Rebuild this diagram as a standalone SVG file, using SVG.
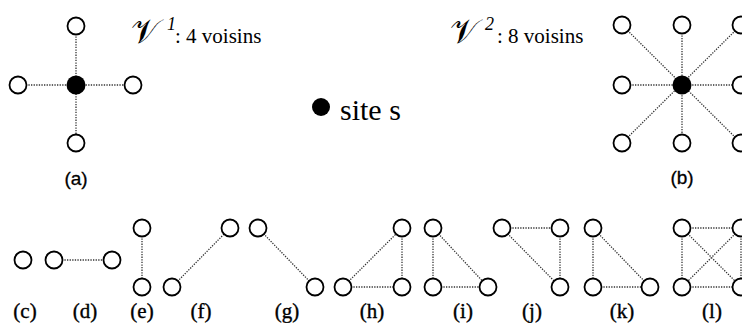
<svg xmlns="http://www.w3.org/2000/svg" width="742" height="323" viewBox="0 0 742 323">
<style>
.e{stroke:#333;stroke-width:1.3;stroke-dasharray:1.3 1.3;fill:none}
.o{fill:#fff;stroke:#000;stroke-width:1.8}
.f{fill:#000}
.sl{font-family:"Liberation Sans",Arial,sans-serif;font-size:19px;text-anchor:middle;stroke:#000;stroke-width:0.3}
.lb{font-family:"Liberation Serif","Times New Roman",serif;font-size:21px;text-anchor:middle;stroke:#000;stroke-width:0.35}
.t{font-family:"Liberation Serif","Times New Roman",serif}
.v{font-family:"DejaVu Serif","Liberation Serif",serif;font-size:34px}
</style>
<rect width="742" height="323" fill="#fff"/>
<g id="connectors">
<line class="e" x1="76" y1="26" x2="76" y2="143"/>
<line class="e" x1="18" y1="85" x2="133" y2="85"/>
<line class="e" x1="622" y1="85" x2="741" y2="85"/>
<line class="e" x1="682" y1="25" x2="682" y2="143"/>
<line class="e" x1="622" y1="25" x2="741" y2="143"/>
<line class="e" x1="741" y1="25" x2="622" y2="143"/>
<line class="e" x1="54" y1="260" x2="112" y2="260"/>
<line class="e" x1="142" y1="228" x2="142" y2="287"/>
<line class="e" x1="172" y1="287" x2="230" y2="228"/>
<line class="e" x1="258" y1="228" x2="315" y2="287"/>
<line class="e" x1="343" y1="287" x2="402" y2="228"/>
<line class="e" x1="343" y1="287" x2="402" y2="287"/>
<line class="e" x1="402" y1="228" x2="402" y2="287"/>
<line class="e" x1="433" y1="228" x2="433" y2="287"/>
<line class="e" x1="433" y1="287" x2="488" y2="287"/>
<line class="e" x1="433" y1="228" x2="488" y2="287"/>
<line class="e" x1="502" y1="228" x2="560" y2="228"/>
<line class="e" x1="560" y1="228" x2="560" y2="287"/>
<line class="e" x1="502" y1="228" x2="560" y2="287"/>
<line class="e" x1="593" y1="228" x2="593" y2="287"/>
<line class="e" x1="593" y1="287" x2="650" y2="287"/>
<line class="e" x1="593" y1="228" x2="650" y2="287"/>
<line class="e" x1="682" y1="228" x2="741" y2="228"/>
<line class="e" x1="682" y1="287" x2="741" y2="287"/>
<line class="e" x1="682" y1="228" x2="682" y2="287"/>
<line class="e" x1="741" y1="228" x2="741" y2="287"/>
<line class="e" x1="682" y1="228" x2="741" y2="287"/>
<line class="e" x1="741" y1="228" x2="682" y2="287"/>
</g>
<g id="fig-a">
<circle class="o" cx="76" cy="26" r="8.5"/>
<circle class="o" cx="18" cy="85" r="8.5"/>
<circle class="o" cx="133" cy="85" r="8.5"/>
<circle class="o" cx="76" cy="143" r="8.5"/>
<circle class="f" cx="76" cy="85" r="9.5"/>
<text class="sl" x="76" y="185">(a)</text>
</g>
<g id="legend-v1">
<text class="v" x="131" y="43">𝒱</text>
<text class="t" x="167" y="30" font-size="18" font-style="italic">1</text>
<text class="t" x="175" y="43" font-size="21">: 4 voisins</text>
</g>
<g id="legend-site">
<circle class="f" cx="321" cy="107" r="9"/>
<text class="t" x="340" y="120" font-size="30">site s</text>
</g>
<g id="legend-v2">
<text class="v" x="450" y="43">𝒱</text>
<text class="t" x="485" y="30" font-size="18" font-style="italic">2</text>
<text class="t" x="497" y="43" font-size="21">: 8 voisins</text>
</g>
<g id="fig-b">
<circle class="o" cx="622" cy="25" r="8.5"/>
<circle class="o" cx="682" cy="25" r="8.5"/>
<circle class="o" cx="741" cy="25" r="8.5"/>
<circle class="o" cx="622" cy="85" r="8.5"/>
<circle class="o" cx="741" cy="85" r="8.5"/>
<circle class="o" cx="622" cy="143" r="8.5"/>
<circle class="o" cx="682" cy="143" r="8.5"/>
<circle class="o" cx="741" cy="143" r="8.5"/>
<circle class="f" cx="682" cy="85" r="9.5"/>
<text class="sl" x="682" y="184">(b)</text>
</g>
<g id="fig-c"><circle class="o" cx="23" cy="260" r="8.5"/><text class="lb" x="25" y="318">(c)</text></g>
<g id="fig-d"><circle class="o" cx="54" cy="260" r="8.5"/><circle class="o" cx="112" cy="260" r="8.5"/><text class="lb" x="85" y="318">(d)</text></g>
<g id="fig-e"><circle class="o" cx="142" cy="228" r="8.5"/><circle class="o" cx="142" cy="287" r="8.5"/><text class="lb" x="142" y="318">(e)</text></g>
<g id="fig-f"><circle class="o" cx="172" cy="287" r="8.5"/><circle class="o" cx="230" cy="228" r="8.5"/><text class="lb" x="201" y="318">(f)</text></g>
<g id="fig-g"><circle class="o" cx="258" cy="228" r="8.5"/><circle class="o" cx="315" cy="287" r="8.5"/><text class="lb" x="287" y="318">(g)</text></g>
<g id="fig-h"><circle class="o" cx="343" cy="287" r="8.5"/><circle class="o" cx="402" cy="228" r="8.5"/><circle class="o" cx="402" cy="287" r="8.5"/><text class="lb" x="372" y="318">(h)</text></g>
<g id="fig-i"><circle class="o" cx="433" cy="228" r="8.5"/><circle class="o" cx="433" cy="287" r="8.5"/><circle class="o" cx="488" cy="287" r="8.5"/><text class="lb" x="463" y="318">(i)</text></g>
<g id="fig-j"><circle class="o" cx="502" cy="228" r="8.5"/><circle class="o" cx="560" cy="228" r="8.5"/><circle class="o" cx="560" cy="287" r="8.5"/><text class="lb" x="532" y="318">(j)</text></g>
<g id="fig-k"><circle class="o" cx="593" cy="228" r="8.5"/><circle class="o" cx="593" cy="287" r="8.5"/><circle class="o" cx="650" cy="287" r="8.5"/><text class="lb" x="622" y="318">(k)</text></g>
<g id="fig-l"><circle class="o" cx="682" cy="228" r="8.5"/><circle class="o" cx="741" cy="228" r="8.5"/><circle class="o" cx="682" cy="287" r="8.5"/><circle class="o" cx="741" cy="287" r="8.5"/><text class="lb" x="712" y="318">(l)</text></g>
</svg>
